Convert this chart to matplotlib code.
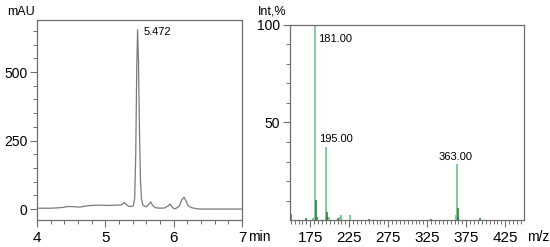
import matplotlib
matplotlib.use("Agg")
import matplotlib.pyplot as plt
from matplotlib.ticker import MultipleLocator, FixedLocator

plt.rcParams['font.family'] = ['Liberation Sans', 'DejaVu Sans']

# chromatogram (min, mAU)
rt = [4.00, 4.20, 4.35, 4.45, 4.52, 4.62, 4.75, 4.85, 4.95, 5.05, 5.15, 5.22,
      5.25, 5.275, 5.30, 5.34, 5.38, 5.41, 5.43, 5.445, 5.46, 5.472, 5.485,
      5.50, 5.515, 5.53, 5.55, 5.60, 5.64, 5.665, 5.69, 5.73, 5.80, 5.87,
      5.92, 5.947, 5.97, 6.00, 6.03, 6.08, 6.12, 6.152, 6.18, 6.21, 6.26,
      6.32, 6.38, 6.50, 7.00]
mau = [3, 3, 5, 9, 9, 7, 12, 14, 14, 13, 14, 15,
       17, 24, 18, 10, 9, 12, 40, 200, 520, 655, 540,
       280, 100, 35, 14, 8, 18, 26, 14, 5, 3, 4,
       12, 18, 10, 2, 2, 10, 34, 43, 30, 12, 5,
       2, 0, 0, 0]
peak_rt = 5.472
peak_label = "5.472"

# mass spectrum (m/z, Int %)
mz_main = [181, 195, 363, 213, 215, 226, 362, 199, 178]
int_main = [100, 37.5, 28.5, 1.5, 2.5, 2.5, 2.5, 1.5, 1]
mz_iso = [149, 150, 182, 183, 196, 197, 364, 365, 170, 210, 250, 330, 392]
int_iso = [10.5, 3, 10.5, 1.5, 4, 1.5, 6, 1.5, 0.8, 0.8, 0.5, 0.5, 0.8]
ms_label_mz = [181, 195, 363]
ms_label_text = ["181.00", "195.00", "363.00"]

W, H = 550, 247
fig = plt.figure(figsize=(W / 100, H / 100), dpi=100)

def px(x0, y0, x1, y1):
    return [x0 / W, 1 - y1 / H, (x1 - x0) / W, (y1 - y0) / H]

spine_col = "#6e6e6e"

# --- chromatogram ---
ax1 = fig.add_axes(px(37, 20, 242, 220))
ax1.plot(rt, mau, color="#7a7a7a", lw=0.9)
ax1.set_xlim(4, 7)
ax1.set_ylim(-40, 690)
ax1.xaxis.set_major_locator(FixedLocator([4, 5, 6, 7]))
ax1.xaxis.set_minor_locator(MultipleLocator(0.2))
ax1.yaxis.set_major_locator(FixedLocator([0, 250, 500]))
ax1.yaxis.set_minor_locator(MultipleLocator(50))
ax1.text(peak_rt + 0.09, 645, peak_label, fontsize=8, va="center", ha="left")

# --- mass spectrum ---
ax2 = fig.add_axes(px(290, 25, 524, 220))
ax2.vlines(mz_main, 0, int_main, color="#6fc28b", lw=1.2)
ax2.vlines(mz_iso, 0, int_iso, color="#1f7a34", lw=1.1)
ax2.set_xlim(149, 449)
ax2.set_ylim(0, 100)
ax2.xaxis.set_major_locator(FixedLocator(range(175, 426, 50)))
ax2.xaxis.set_minor_locator(MultipleLocator(5))
ax2.yaxis.set_major_locator(FixedLocator([50, 100]))
ax2.yaxis.set_minor_locator(FixedLocator([10, 20, 30, 40, 60, 70, 80, 90]))

label_style = [(4, -7, "left"), (-8.5, 4, "left"), (-2, 4, "center")]
for m, s, (dx, dy, ha) in zip(ms_label_mz, ms_label_text, label_style):
    h = int_main[mz_main.index(m)]
    ax2.text(m + dx, h + dy, s, fontsize=8, va="center", ha=ha)

for ax in (ax1, ax2):
    for sp in ax.spines.values():
        sp.set_color(spine_col)
        sp.set_linewidth(0.9)
    ax.tick_params(which="major", length=5, width=0.8, color=spine_col,
                   direction="out", pad=2)
    ax.tick_params(which="minor", length=3, width=0.7, color=spine_col,
                   direction="out")
    ax.tick_params(axis="x", labelsize=11, pad=3)
    ax.tick_params(axis="y", labelsize=10)
    for lab in ax.get_xticklabels() + ax.get_yticklabels():
        lab.set_fontfamily(['Liberation Sans Narrow', 'Liberation Sans'])

fig.text(7 / W, 1 - 12 / H, "mAU", fontsize=9, va="center", ha="left")
fig.text(248 / W, 1 - 237 / H, "min", fontsize=10, va="center", ha="left")
fig.text(258 / W, 1 - 12 / H, "Int,%", fontsize=9, va="center", ha="left")
fig.text(527 / W, 1 - 237 / H, "m/z", fontsize=10, va="center", ha="left")

fig.savefig("out.png", dpi=100)
